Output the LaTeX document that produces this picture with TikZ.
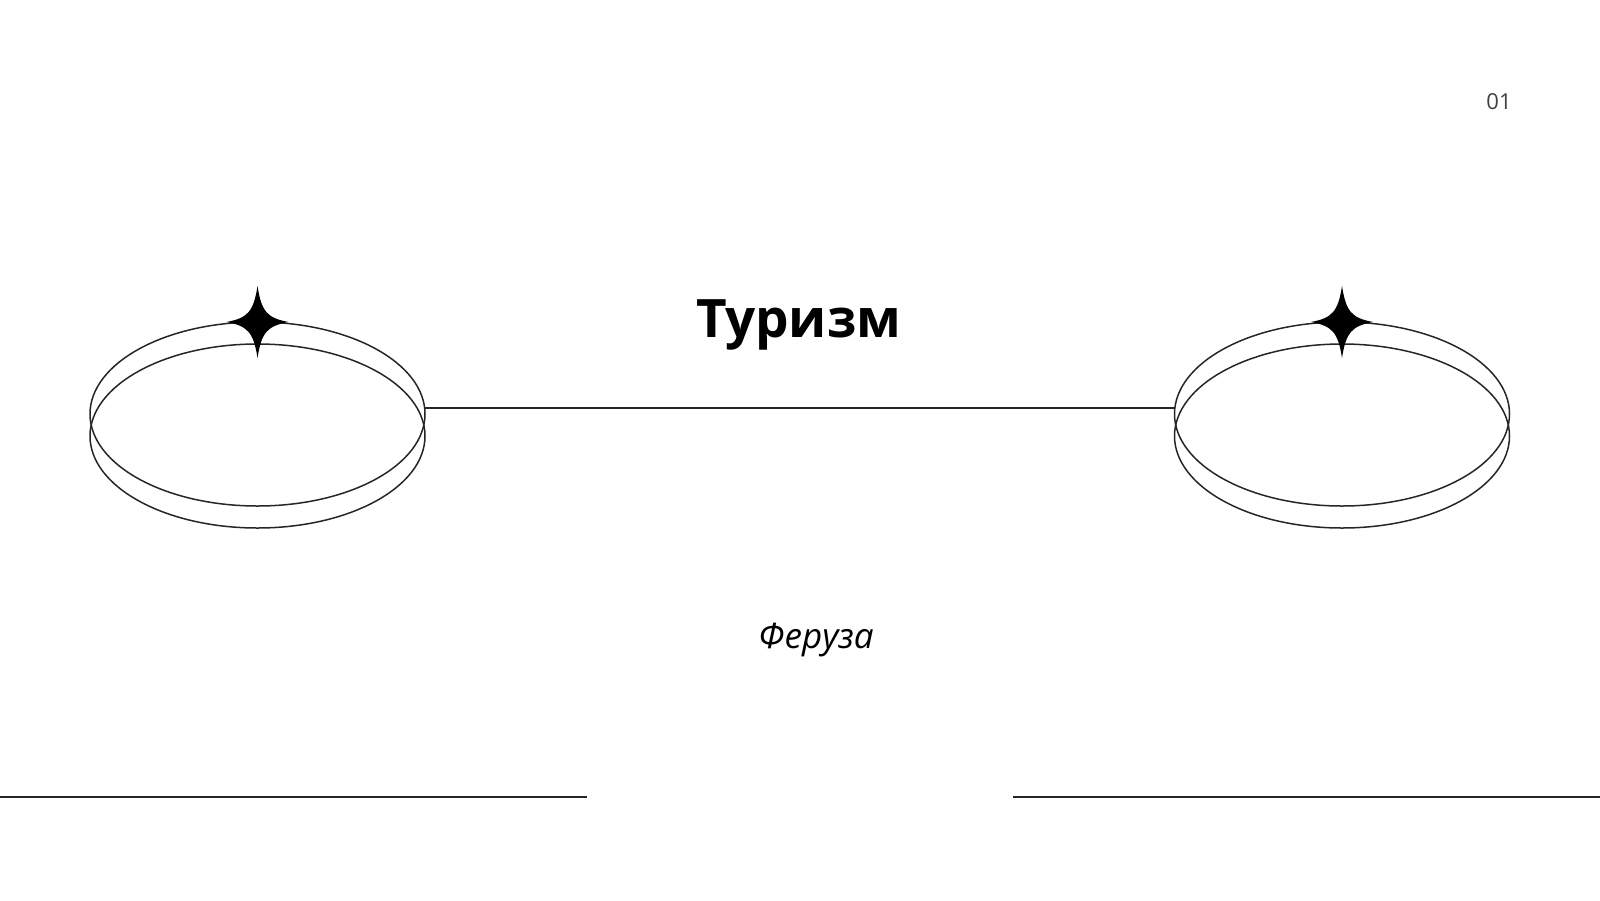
\documentclass[tikz,border=0pt]{standalone}
\usepackage{fontspec}
\setmainfont{Open Sans}
\begin{document}
\begin{tikzpicture}[x=1pt,y=-1pt,
  ring/.style={draw=black!85,line width=1.5pt},
  rule/.style={draw=black!85,line width=1.5pt},
  sparkle/.style={fill=black}]
\useasboundingbox (0,0) rectangle (1600,900);
\newcommand{\mystar}[2]{\fill (#1,#2-36) .. controls (#1+4,#2-10) and (#1+10,#2-4) .. (#1+31,#2)
  .. controls (#1+10,#2+4) and (#1+4,#2+10) .. (#1,#2+36)
  .. controls (#1-4,#2+10) and (#1-10,#2+4) .. (#1-31,#2)
  .. controls (#1-10,#2-4) and (#1-4,#2-10) .. cycle;}
\foreach \cx in {257.5,1342} {
  \draw[ring] (\cx,414) ellipse [x radius=167.5,y radius=92];
  \draw[ring] (\cx,436) ellipse [x radius=167.5,y radius=92];
  \mystar{\cx}{322}
}
\coordinate (la) at (425,408);
\coordinate (lb) at (1175,408);
\draw[ring] (la) -- (lb);
\node[font=\bfseries\fontsize{53}{60}\selectfont] (title) at (799,325) {Туризм};
\node[font=\itshape\fontsize{35}{40}\selectfont] (author) at (816,640) {Феруза};
\node[font=\fontsize{22}{26}\selectfont,text=black!75] (num) at (1499,102) {01};
\coordinate (b1) at (0,797); \coordinate (b2) at (587,797);
\coordinate (b3) at (1013,797); \coordinate (b4) at (1600,797);
\draw[rule] (b1) -- (b2);
\draw[rule] (b3) -- (b4);
\end{tikzpicture}
\end{document}
